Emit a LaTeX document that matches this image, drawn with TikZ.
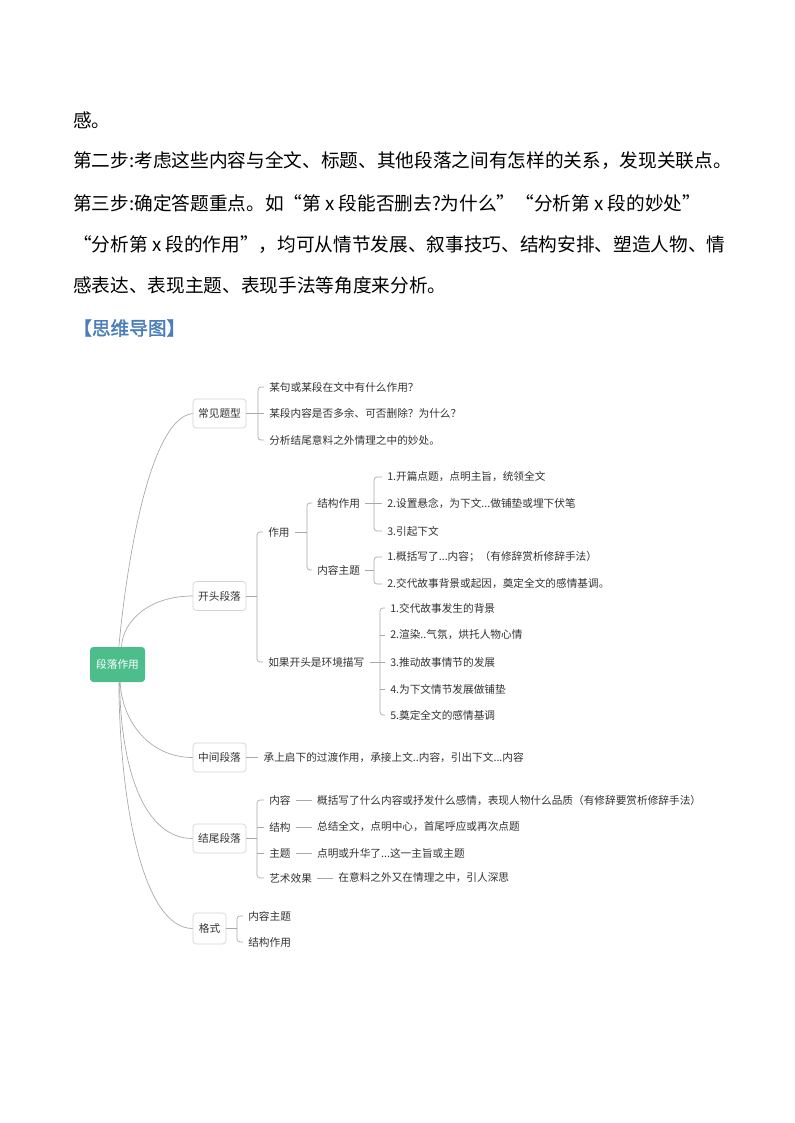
\documentclass[tikz,border=0pt]{standalone}
\usepackage{fontspec}
\setmainfont{Noto Sans CJK SC}[AutoFakeBold=2]
\usetikzlibrary{positioning}
\definecolor{mapgreen}{HTML}{4DBE8B}
\definecolor{linegray}{HTML}{A8A8A8}
\definecolor{boxgray}{HTML}{D4D4D4}
\definecolor{headblue}{HTML}{4A7EBB}
\definecolor{textgray}{HTML}{333333}
\tikzset{
  body/.style={anchor=west,inner sep=0pt,font=\fontsize{14}{16}\selectfont},
  rootbox/.style={fill=mapgreen,rounded corners=2.5pt,text=white,minimum width=41.25pt,minimum height=26.25pt,inner sep=0pt,font=\fontsize{8}{9}\selectfont},
  topic/.style={draw=boxgray,line width=0.5pt,rounded corners=2.5pt,minimum width=39.75pt,minimum height=21.75pt,inner sep=0pt,text=textgray,font=\fontsize{8}{9}\selectfont},
  leaf/.style={anchor=west,inner xsep=3.75pt,inner ysep=1pt,text=textgray,font=\fontsize{8}{9}\selectfont},
  link/.style={draw=linegray,line width=0.5pt},
  fork/.style={link,rounded corners=2.25pt},
}

\begin{document}
\begin{tikzpicture}[x=0.75pt,y=-0.75pt]
	\useasboundingbox[fill=white] (0,0) rectangle (794,1123);
	%text above the map
	\node[body] (l1) at (73,120) {感。};
	\node[body] (l2) at (73,161) {第二步:考虑这些内容与全文、标题、其他段落之间有怎样的关系，发现关联点。};
	\node[body] (l3) at (73,203) {第三步:确定答题重点。如“第 x 段能否删去?为什么”“分析第 x 段的妙处”};
	\node[body] (l4) at (73,245) {“分析第 x 段的作用”，均可从情节发展、叙事技巧、结构安排、塑造人物、情};
	\node[body] (l5) at (73,285) {感表达、表现主题、表现手法等角度来分析。};
	\node[body,text=headblue,font=\fontsize{14}{16}\selectfont\bfseries] (head) at (73,328) {【思维导图】};
	%root and main branches
	\node[rootbox] (root) at (117.5,664.5) {段落作用};
	\node[topic] (typ) at (219.5,413.5) {常见题型};
	\node[topic] (open) at (219.5,596) {开头段落};
	\node[topic] (mid) at (219.5,757.5) {中间段落};
	\node[topic] (end) at (219.5,838.5) {结尾段落};
	\node[topic,minimum width=24.75pt,minimum height=23.25pt] (fmt) at (209.5,928.5) {格式};
	\draw[link] ([xshift=1pt]root.north) .. controls (127,560) and (150,418) .. (typ.west);
	\draw[link] ([xshift=3pt]root.north) .. controls (123,620) and (150,596) .. (open.west);
	\draw[link] ([xshift=2pt]root.south) .. controls (122,722) and (150,757.5) .. (mid.west);
	\draw[link] ([xshift=1.5pt]root.south) .. controls (121,772) and (145,838.5) .. (end.west);
	\draw[link] ([xshift=1pt]root.south) .. controls (120,812) and (145,928.5) .. (fmt.west);
	%常见题型
	\node[leaf] (t1) at (264,387) {某句或某段在文中有什么作用？};
	\node[leaf] (t2) at (264,413) {某段内容是否多余、可否删除？为什么？};
	\node[leaf] (t3) at (264,440) {分析结尾意料之外情理之中的妙处。};
	\coordinate (kA) at (258,413.5);
	\draw[link] (typ.east) -- (kA);
	\draw[fork] (t1.west) -| (kA) |- (t3.west);
	\draw[link] (t2.west -| kA) -- (t2.west);
	%开头段落
	\node[leaf] (a1) at (263,532) {作用};
	\node[leaf] (a2) at (263,662) {如果开头是环境描写};
	\coordinate (kB) at (257,596);
	\draw[link] (open.east) -- (kB);
	\draw[fork] (a1.west) -| (kB) |- (a2.west);
	\node[leaf] (b1) at (312,503) {结构作用};
	\node[leaf] (b2) at (312,570) {内容主题};
	\coordinate (kC) at (307,532);
	\draw[link] (a1.east) -- (kC);
	\draw[fork] (b1.west) -| (kC) |- (b2.west);
	\node[leaf] (c1) at (382,477) {1.开篇点题，点明主旨，统领全文};
	\node[leaf] (c2) at (382,503) {2.设置悬念，为下文...做铺垫或埋下伏笔};
	\node[leaf] (c3) at (382,531) {3.引起下文};
	\coordinate (kD) at (374,503);
	\draw[link] (b1.east) -- (kD);
	\draw[fork] (c1.west) -| (kD) |- (c3.west);
	\draw[link] (kD) -- (c2.west);
	\node[leaf] (d1) at (382,557) {1.概括写了...内容；（有修辞赏析修辞手法）};
	\node[leaf] (d2) at (382,584) {2.交代故事背景或起因，奠定全文的感情基调。};
	\coordinate (kE) at (374,570);
	\draw[link] (b2.east) -- (kE);
	\draw[fork] (d1.west) -| (kE) |- (d2.west);
	\node[leaf] (e1) at (385,608) {1.交代故事发生的背景};
	\node[leaf] (e2) at (385,635) {2.渲染..气氛，烘托人物心情};
	\node[leaf] (e3) at (385,662) {3.推动故事情节的发展};
	\node[leaf] (e4) at (385,689) {4.为下文情节发展做铺垫};
	\node[leaf] (e5) at (385,715) {5.奠定全文的感情基调};
	\coordinate (kF) at (380,662);
	\draw[link] (a2.east) -- (kF);
	\draw[fork] (e1.west) -| (kF) |- (e5.west);
	\foreach \n in {e2,e3,e4}
		\draw[link] (\n.west -| kF) -- (\n.west);
	%中间段落
	\node[leaf,right=9pt of mid] (m1) {承上启下的过渡作用，承接上文..内容，引出下文...内容};
	\draw[link] (mid) -- (m1);
	%结尾段落
	\node[leaf] (f1) at (264,800) {内容};
	\node[leaf] (f2) at (264,827) {结构};
	\node[leaf] (f3) at (264,853) {主题};
	\node[leaf] (f4) at (264,878) {艺术效果};
	\node[leaf,right=12pt of f1] (g1) {概括写了什么内容或抒发什么感情，表现人物什么品质（有修辞要赏析修辞手法）};
	\node[leaf,right=12pt of f2] (g2) {总结全文，点明中心，首尾呼应或再次点题};
	\node[leaf,right=12pt of f3] (g3) {点明或升华了...这一主旨或主题};
	\node[leaf,right=12pt of f4] (g4) {在意料之外又在情理之中，引人深思};
	\foreach \n in {1,...,4}
		\draw[link] (f\n) -- (g\n);
	\coordinate (kG) at (257,838.5);
	\draw[link] (end.east) -- (kG);
	\draw[fork] (f1.west) -| (kG) |- (f4.west);
	\draw[link] (f2.west -| kG) -- (f2.west);
	\draw[link] (f3.west -| kG) -- (f3.west);
	%格式
	\node[leaf] (h1) at (243,916) {内容主题};
	\node[leaf] (h2) at (243,942) {结构作用};
	\coordinate (kH) at (237,928.5);
	\draw[link] (fmt.east) -- (kH);
	\draw[fork] (h1.west) -| (kH) |- (h2.west);
\end{tikzpicture}
\end{document}
